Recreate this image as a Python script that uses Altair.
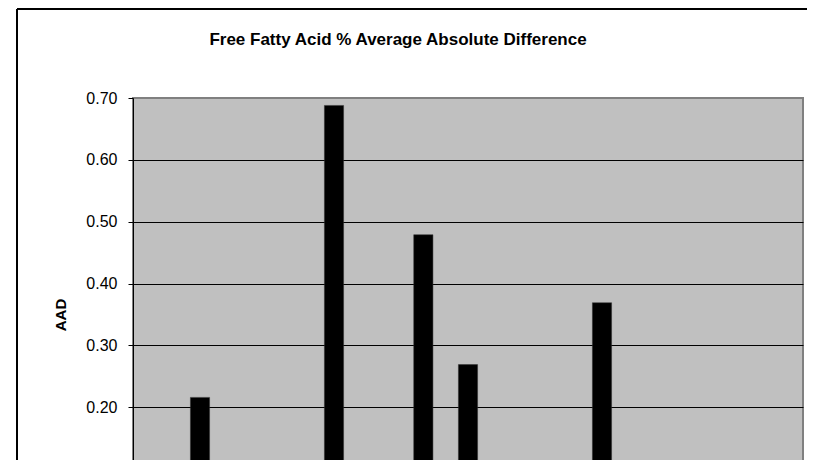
import altair as alt
import pandas as pd

chart_title = ["Free Fatty Acid % Average Absolute Difference"]
labs = [f"Lab {i}" for i in range(1, 16)]
aad = [0.0, 0.216, 0.0, 0.0, 0.688, 0.0, 0.479, 0.269, 0.0, 0.0, 0.369, 0.0, 0.0, 0.0, 0.0]
y_ticks = [0.0, 0.1, 0.2, 0.3, 0.4, 0.5, 0.6, 0.7]

df = pd.DataFrame({"lab": labs, "aad": aad})

font = "Liberation Sans"

bars = alt.Chart(df).mark_bar(color="black", stroke="#333333", strokeWidth=0.5).encode(
    x=alt.X("lab:N", sort=labs,
            scale=alt.Scale(paddingInner=0.57, paddingOuter=0.285),
            axis=alt.Axis(title=None, labels=False, domainColor="black", tickColor="black",
                          tickSize=5, grid=False)),
    y=alt.Y("aad:Q", scale=alt.Scale(domain=[0, 0.7], nice=False),
            axis=alt.Axis(title="AAD", values=y_ticks, format=".2f",
                          labelFont=font, labelFontSize=16, labelColor="black",
                          labelPadding=11, tickSize=5, tickColor="black",
                          domainColor="black", domainWidth=1,
                          gridColor=alt.condition("datum.value >= 0.7", alt.value("#808080"), alt.value("black")),
                          gridOpacity=1, gridWidth=1,
                          titleFont=font, titleFontSize=15, titleFontWeight="bold",
                          titleColor="black", titlePadding=17)),
)

frame_df = pd.DataFrame({"a": [0]})
frame_left = alt.Chart(frame_df).mark_rule(color="black", strokeWidth=2).encode(
    x=alt.value(-116), y=alt.value(-89), y2=alt.value(600)
)
frame_top = alt.Chart(frame_df).mark_rule(color="black", strokeWidth=2).encode(
    x=alt.value(-116), x2=alt.value(800), y=alt.value(-89)
)

title_text = alt.Chart(pd.DataFrame({"t": chart_title})).mark_text(
    font=font, fontSize=17, fontWeight="bold", color="black",
    align="center", baseline="middle"
).encode(text="t:N", x=alt.value(265), y=alt.value(-58))

chart = alt.layer(bars, frame_left, frame_top, title_text).properties(
    width=670,
    height=433,
    padding={"left": 125, "top": 90, "right": 4, "bottom": -71},
    autosize=alt.AutoSizeParams(type="none"),
)

chart = chart.configure_view(fill="#C0C0C0", stroke="#808080", strokeWidth=2)
chart.config.background = "white"

chart.save("out.html", embed_options={"renderer": "svg", "actions": False})
